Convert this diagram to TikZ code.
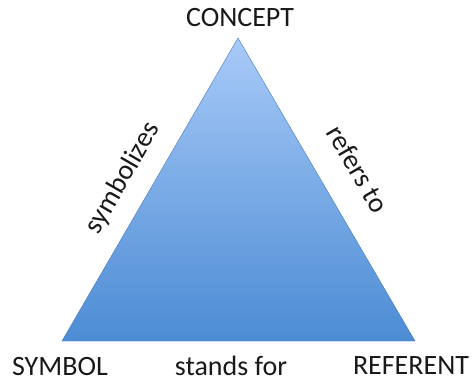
\documentclass[tikz,border=0pt]{standalone}
\usepackage{fontspec}
\setmainfont{Carlito}
\definecolor{topblue}{RGB}{168,202,248}
\definecolor{botblue}{RGB}{76,140,212}
\definecolor{edgeblue}{RGB}{70,120,190}
\begin{document}
\begin{tikzpicture}[x=1bp,y=-1bp,
  lbl/.style={font=\fontsize{28bp}{32bp}\selectfont, inner sep=0pt, text=black!90}]
\useasboundingbox (0,0) rectangle (472,385);
\coordinate (apex) at (238,38);
\coordinate (bl) at (62,341);
\coordinate (br) at (415,341);
\shade[top color=topblue, bottom color=botblue, draw=edgeblue, line width=0.4bp] (apex) -- (br) -- (bl) -- cycle;
\node[lbl] (concept) at (240,18) {CONCEPT};
\node[lbl] (symbol) at (60,366) {SYMBOL};
\node[lbl] (stands) at (231,366) {stands for};
\node[lbl] (referent) at (411,366) {REFERENT};
\node[lbl, rotate=60] (symbolizes) at (123,178) {symbolizes};
\node[lbl, rotate=-60] (refers) at (358,169) {refers to};
\end{tikzpicture}
\end{document}
